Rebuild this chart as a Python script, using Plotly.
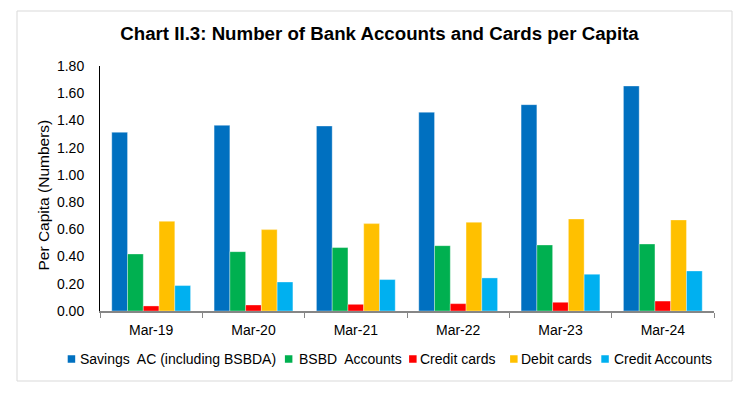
import plotly.graph_objects as go

categories = ["Mar-19", "Mar-20", "Mar-21", "Mar-22", "Mar-23", "Mar-24"]
savings_ac = [1.313, 1.364, 1.359, 1.460, 1.516, 1.653]
bsbd_accounts = [0.419, 0.436, 0.466, 0.480, 0.485, 0.492]
credit_cards = [0.037, 0.044, 0.049, 0.054, 0.064, 0.073]
debit_cards = [0.659, 0.598, 0.642, 0.652, 0.676, 0.669]
credit_accounts = [0.187, 0.213, 0.231, 0.243, 0.270, 0.294]

series_names = ["Savings  AC (including BSBDA)", "BSBD  Accounts", "Credit cards",
                "Debit cards", "Credit Accounts"]
series_values = [savings_ac, bsbd_accounts, credit_cards, debit_cards, credit_accounts]
series_colors = ["#0070C0", "#00B050", "#FF0000", "#FFC000", "#00B0F0"]

FONT = "Liberation Sans, Arial, sans-serif"

fig = go.Figure()
for name, vals, col in zip(series_names, series_values, series_colors):
    fig.add_trace(go.Bar(
        x=categories, y=vals, name=name, showlegend=False,
        marker=dict(color=col, line=dict(color="rgba(255,255,255,0.45)", width=0.75)),
    ))

# page is offset by the default 8px body margin
OFF = 8
W, H = 749 - OFF, 395 - OFF
PX0, PX1, PY0, PY1 = 100, 714, 66, 311   # plot area in page pixels
L, R, T, B = PX0 - OFF, W - (PX1 - OFF), PY0 - OFF, H - (PY1 - OFF)
pw = PX1 - PX0
ph = PY1 - PY0

def px_x(x):
    return (x - PX0) / pw

def px_y(y):
    return (PY1 - y) / ph

# legend layout (page pixels): square left edge, text start
legend_sq_x = [67.7, 284.9, 409.1, 510.1, 601.3]
legend_txt_x = [79.3, 298.3, 419.9, 520.9, 613.4]
LEG_Y = 359
SQ = 7.5

shapes = [dict(
    type="rect", xref="paper", yref="paper",
    x0=px_x(17), x1=px_x(732), y0=px_y(381), y1=px_y(11),
    line=dict(color="#D9D9D9", width=1), fillcolor="rgba(0,0,0,0)", layer="below",
)]
annotations = [dict(
    text="Per Capita (Numbers)", xref="paper", yref="paper",
    x=px_x(42.5), y=px_y(195), xanchor="center", yanchor="middle",
    textangle=-90, showarrow=False,
    font=dict(size=15.5, family=FONT, color="#000000"),
)]
for name, col, sx, tx in zip(series_names, series_colors, legend_sq_x, legend_txt_x):
    shapes.append(dict(
        type="rect", xref="paper", yref="paper",
        x0=px_x(sx), x1=px_x(sx + SQ), y0=px_y(LEG_Y + SQ / 2), y1=px_y(LEG_Y - SQ / 2),
        line=dict(width=0), fillcolor=col,
    ))
    annotations.append(dict(
        text=name, xref="paper", yref="paper", x=px_x(tx - 1.5), y=px_y(LEG_Y),
        xanchor="left", yanchor="middle", showarrow=False,
        font=dict(size=14, family=FONT, color="#000000"),
    ))

fig.update_layout(
    width=W, height=H,
    margin=dict(l=L, r=R, t=T, b=B, autoexpand=False),
    paper_bgcolor="white", plot_bgcolor="white",
    barmode="group", bargap=0.23, bargroupgap=0,
    font=dict(family=FONT, color="#000000"),
    title=dict(
        text="<b>Chart II.3: Number of Bank Accounts and Cards per Capita</b>",
        x=(379.5 - OFF) / W, xanchor="center", y=1 - (33 - OFF) / H, yanchor="middle",
        font=dict(size=18.7, family=FONT, color="#000000"),
    ),
    showlegend=False,
    xaxis=dict(
        type="category", showgrid=False, showline=True, linecolor="#868686", linewidth=1.5,
        ticks="outside", tickson="boundaries", ticklen=5, tickcolor="#868686", tickwidth=1,
        tickfont=dict(size=14, family=FONT, color="#000000"), ticklabelstandoff=5,
    ),
    yaxis=dict(
        range=[0, 1.8], dtick=0.2, tick0=0, tickformat=".2f", showgrid=False,
        showline=True, linecolor="#000000", linewidth=1, ticks="",
        tickfont=dict(size=14, family=FONT, color="#000000"), ticklabelstandoff=12,
        zeroline=False,
    ),
    shapes=shapes,
    annotations=annotations,
)

fig.write_html("out.html")
